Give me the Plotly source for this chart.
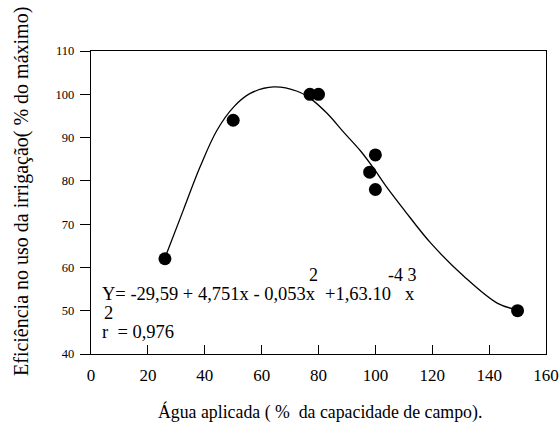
import plotly.graph_objects as go

# Observed data points
agua = [26, 50, 77, 80, 98, 100, 100, 150]
eficiencia = [62, 94, 100, 100, 82, 86, 78, 50]

# Fitted curve
curve_x = [26, 32.5, 38.4, 44.3, 50.2, 56.0, 64.3, 72.5, 77.2, 83.0, 88.9, 94.8,
           99.5, 103.6, 110.1, 119.5, 131.2, 143.0, 150]
curve_y = [62.2, 73.3, 83.3, 91.7, 97.1, 100.2, 101.7, 100.7, 99.0, 95.6, 91.2, 86.9,
           82.8, 78.9, 73.3, 65.6, 57.9, 51.7, 50.2]

x_ticks = [0, 20, 40, 60, 80, 100, 120, 140, 160]
y_ticks = [40, 50, 60, 70, 80, 90, 100, 110]

FONT = "Liberation Serif"
EQ = 18.5

fig = go.Figure()
fig.add_trace(go.Scatter(x=curve_x, y=curve_y, mode="lines",
                         line=dict(color="black", width=1.3, shape="spline", smoothing=1.0),
                         hoverinfo="skip", showlegend=False))
fig.add_trace(go.Scatter(x=agua, y=eficiencia, mode="markers",
                         marker=dict(color="black", size=13), showlegend=False))

ann = []
def txt(x, y, s, size=EQ, anchor="left"):
    ann.append(dict(x=x, y=y, xref="paper", yref="paper", text=s, showarrow=False,
                    xanchor=anchor, yanchor="middle", font=dict(family=FONT, size=size, color="black")))

# page pixel -> paper coords (plot area spans x 91..546, y 51..354 on the page)
def px(xp):
    return (xp - 91) / 455.0
def py(yp):
    return (354 - yp) / 303.0

txt(px(100), py(294), "Y= -29,59 + 4,751x - 0,053x")
txt(px(313), py(275), "2", size=18, anchor="center")
txt(px(323), py(294), "+1,63.10")
txt(px(386), py(275), "-4 3", size=18)
txt(px(403), py(294), "x")
txt(px(108), py(313), "2", anchor="center")
txt(px(100), py(332), "r  = 0,976")

fig.update_layout(
    width=560, height=430,
    margin=dict(l=91, r=14, t=51, b=76, autoexpand=False),
    paper_bgcolor="white", plot_bgcolor="white",
    font=dict(family=FONT, color="black"),
    annotations=ann + [
        dict(x=px(21), y=py(192), xref="paper", yref="paper", xanchor="center", yanchor="middle",
             text="Eficiência no uso da irrigação( % do máximo)", textangle=-90, showarrow=False,
             font=dict(family=FONT, size=20, color="black")),
        dict(x=px(320), y=py(412), xref="paper", yref="paper", xanchor="center", yanchor="middle",
             text="Água aplicada ( %  da capacidade de campo).", showarrow=False,
             font=dict(family=FONT, size=17.8, color="black")),
    ],
)
fig.update_xaxes(range=[0, 160], tickvals=x_ticks, ticks="inside", ticklen=9, tickwidth=1,
                 tickcolor="black", showline=True, linecolor="black", linewidth=1.3, mirror=True,
                 showgrid=False, zeroline=False, tickfont=dict(family=FONT, size=17),
                 ticklabelstandoff=5, automargin=False)
fig.update_yaxes(range=[40, 110], tickvals=y_ticks, ticks="outside", ticklen=10, tickwidth=1,
                 tickcolor="black", showline=True, linecolor="black", linewidth=1.3, mirror=True,
                 showgrid=False, zeroline=False, tickfont=dict(family=FONT, size=12.5),
                 ticklabelstandoff=3, automargin=False)

# remove the browser's default 8px body margin so the figure fills the window
fig.write_html("out.html", config={"displayModeBar": False},
               post_script="document.body.style.margin='0';document.body.style.overflow='hidden';")
